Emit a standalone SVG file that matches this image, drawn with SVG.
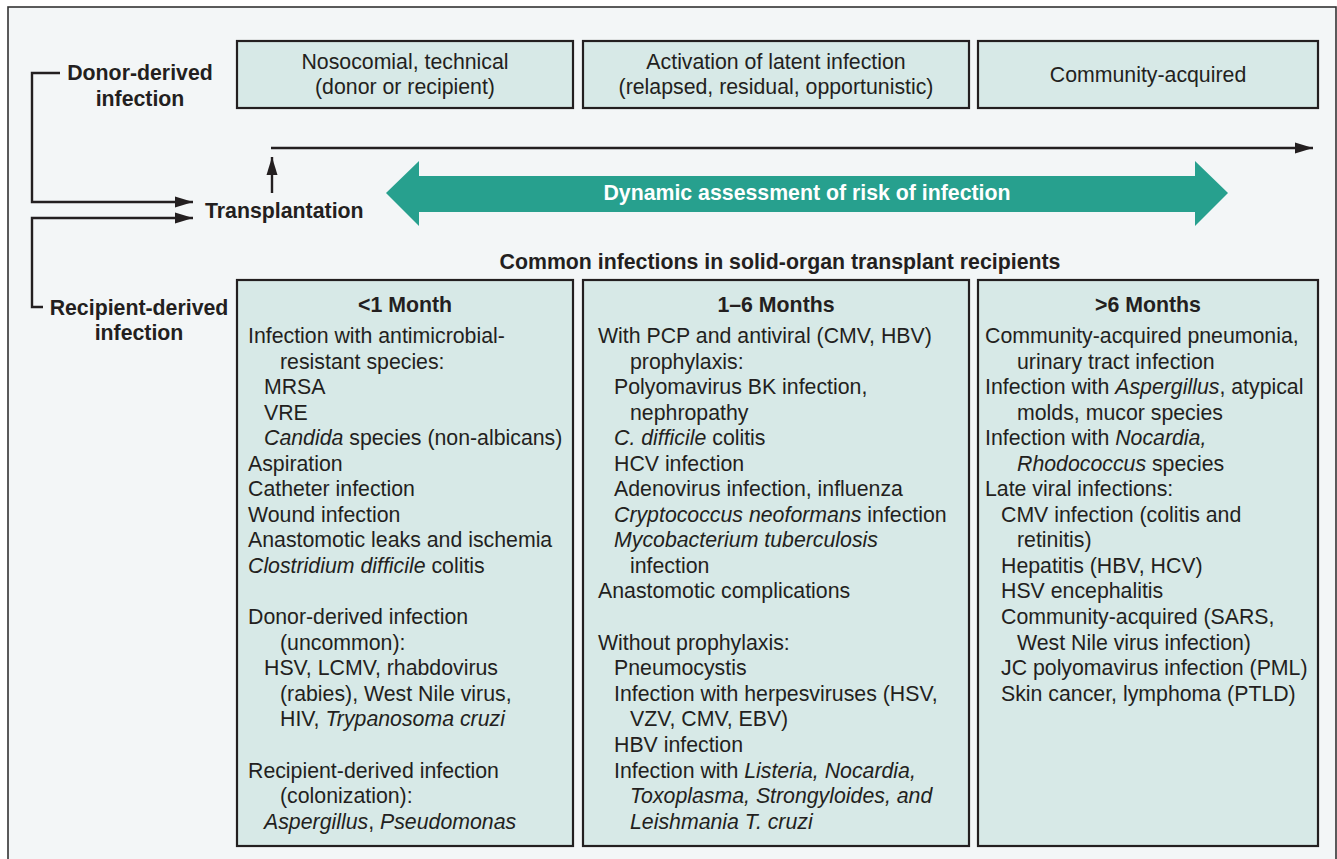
<svg xmlns="http://www.w3.org/2000/svg" width="1337" height="859" viewBox="0 0 1337 859">
<defs>
<style>
text{font-family:"Liberation Sans",Arial,Helvetica,sans-serif;font-size:21.3px;fill:#231f20}
.b{font-weight:bold}
.m{text-anchor:middle}
.i{font-style:italic}
.box{fill:#d7e9e7;stroke:#231f20;stroke-width:2.2}
.ln{fill:none;stroke:#231f20;stroke-width:2.4}
</style>
<marker id="ah" viewBox="0 0 18 12" refX="18" refY="6" markerWidth="18" markerHeight="12" markerUnits="userSpaceOnUse" orient="auto">
<path d="M0,0.5 L18,6 L0,11.5 Z" fill="#231f20"/>
</marker>
</defs>
<rect x="0" y="0" width="1337" height="859" fill="#ffffff"/>
<rect x="8" y="7" width="1328" height="870" fill="#f3f6f7" stroke="#333" stroke-width="1.6"/>

<g id="connectors">
<path class="ln" d="M60,73 H32 V202 H193" marker-end="url(#ah)"/>
<path class="ln" d="M43,307 H32 V218 H193" marker-end="url(#ah)"/>
<path class="ln" d="M272,193 V157" marker-end="url(#ah)"/>
<path class="ln" d="M271,148 H1313" marker-end="url(#ah)"/>
</g>

<g id="donor-label">
<text class="b m" x="140" y="80">Donor-derived</text>
<text class="b m" x="140" y="106">infection</text>
</g>
<g id="recipient-label">
<text class="b m" x="139" y="315">Recipient-derived</text>
<text class="b m" x="139" y="340">infection</text>
</g>
<g id="transplantation">
<text class="b" x="205" y="218">Transplantation</text>
</g>

<g id="top-nosocomial">
<rect class="box" x="237" y="41" width="336" height="67"/>
<text class="m" x="405" y="69">Nosocomial, technical</text>
<text class="m" x="405" y="94">(donor or recipient)</text>
</g>
<g id="top-activation">
<rect class="box" x="583" y="41" width="386" height="67"/>
<text class="m" x="776" y="69">Activation of latent infection</text>
<text class="m" x="776" y="94">(relapsed, residual, opportunistic)</text>
</g>
<g id="top-community">
<rect class="box" x="978" y="41" width="340" height="67"/>
<text class="m" x="1148" y="82">Community-acquired</text>
</g>

<g id="risk-arrow">
<polygon points="386,193 419,161 419,176 1195,176 1195,161 1228,193 1195,226 1195,212 419,212 419,226" fill="#27a08e"/>
<text class="b m" x="807" y="200" style="fill:#ffffff">Dynamic assessment of risk of infection</text>
</g>

<g id="common-title">
<text class="b m" x="780" y="269">Common infections in solid-organ transplant recipients</text>
</g>

<g id="col-1month">
<rect class="box" x="237" y="280" width="336" height="566"/>
<text class="b m" x="405" y="312">&lt;1 Month</text>
<text x="248" y="343">Infection with antimicrobial-</text>
<text x="280" y="369">resistant species:</text>
<text x="264" y="394">MRSA</text>
<text x="264" y="420">VRE</text>
<text x="264" y="445"><tspan class="i">Candida</tspan> species (non-albicans)</text>
<text x="248" y="471">Aspiration</text>
<text x="248" y="496">Catheter infection</text>
<text x="248" y="522">Wound infection</text>
<text x="248" y="547">Anastomotic leaks and ischemia</text>
<text x="248" y="573"><tspan class="i">Clostridium difficile</tspan> colitis</text>
<text x="248" y="624">Donor-derived infection</text>
<text x="280" y="650">(uncommon):</text>
<text x="264" y="675">HSV, LCMV, rhabdovirus</text>
<text x="280" y="701">(rabies), West Nile virus,</text>
<text x="280" y="726">HIV, <tspan class="i">Trypanosoma cruzi</tspan></text>
<text x="248" y="778">Recipient-derived infection</text>
<text x="280" y="803">(colonization):</text>
<text x="264" y="829"><tspan class="i">Aspergillus</tspan>, <tspan class="i">Pseudomonas</tspan></text>
</g>

<g id="col-1to6months">
<rect class="box" x="583" y="280" width="386" height="566"/>
<text class="b m" x="776" y="312">1–6 Months</text>
<text x="598" y="343">With PCP and antiviral (CMV, HBV)</text>
<text x="630" y="369">prophylaxis:</text>
<text x="614" y="394">Polyomavirus BK infection,</text>
<text x="630" y="420">nephropathy</text>
<text x="614" y="445"><tspan class="i">C. difficile</tspan> colitis</text>
<text x="614" y="471">HCV infection</text>
<text x="614" y="496">Adenovirus infection, influenza</text>
<text x="614" y="522"><tspan class="i">Cryptococcus neoformans</tspan> infection</text>
<text x="614" y="547" class="i">Mycobacterium tuberculosis</text>
<text x="630" y="573">infection</text>
<text x="598" y="598">Anastomotic complications</text>
<text x="598" y="650">Without prophylaxis:</text>
<text x="614" y="675">Pneumocystis</text>
<text x="614" y="701">Infection with herpesviruses (HSV,</text>
<text x="630" y="726">VZV, CMV, EBV)</text>
<text x="614" y="752">HBV infection</text>
<text x="614" y="778">Infection with <tspan class="i">Listeria, Nocardia,</tspan></text>
<text x="630" y="803" class="i">Toxoplasma, Strongyloides, and</text>
<text x="630" y="829" class="i">Leishmania T. cruzi</text>
</g>

<g id="col-over6months">
<rect class="box" x="978" y="280" width="340" height="566"/>
<text class="b m" x="1148" y="312">&gt;6 Months</text>
<text x="985" y="343">Community-acquired pneumonia,</text>
<text x="1017" y="369">urinary tract infection</text>
<text x="985" y="394">Infection with <tspan class="i">Aspergillus</tspan>, atypical</text>
<text x="1017" y="420">molds, mucor species</text>
<text x="985" y="445">Infection with <tspan class="i">Nocardia,</tspan></text>
<text x="1017" y="471"><tspan class="i">Rhodococcus</tspan> species</text>
<text x="985" y="496">Late viral infections:</text>
<text x="1001" y="522">CMV infection (colitis and</text>
<text x="1017" y="547">retinitis)</text>
<text x="1001" y="573">Hepatitis (HBV, HCV)</text>
<text x="1001" y="598">HSV encephalitis</text>
<text x="1001" y="624">Community-acquired (SARS,</text>
<text x="1017" y="650">West Nile virus infection)</text>
<text x="1001" y="675">JC polyomavirus infection (PML)</text>
<text x="1001" y="701">Skin cancer, lymphoma (PTLD)</text>
</g>
</svg>
